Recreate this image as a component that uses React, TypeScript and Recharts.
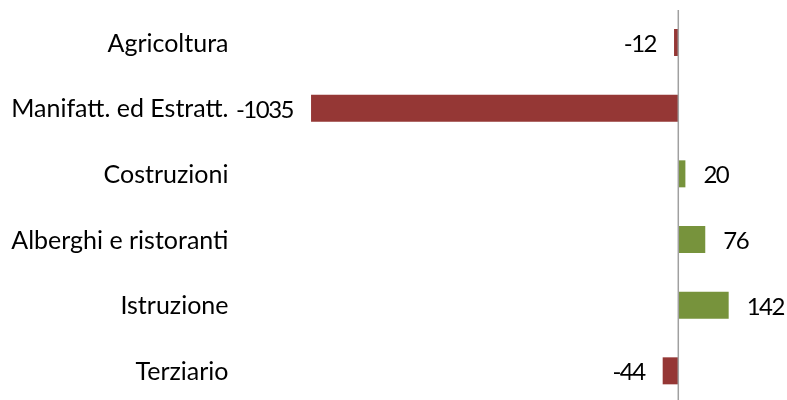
import React from 'react';
import { BarChart, Bar, XAxis, YAxis, Cell, LabelList, ReferenceLine } from 'recharts';

const categories = [
  'Agricoltura',
  'Manifatt. ed Estratt.',
  'Costruzioni',
  'Alberghi e ristoranti',
  'Istruzione',
  'Terziario',
];
const values = [-12, -1035, 20, 76, 142, -44];

const RED = '#953735';
const GREEN = '#77933C';
const FONT = 'Lato, "Open Sans", sans-serif';

const data = categories.map((name, i) => ({ name, value: values[i] }));

const ValueLabel = (props: any) => {
  const { x, y, width, height, value } = props;
  const neg = value < 0;
  const left = Math.min(x, x + width);
  const right = Math.max(x, x + width);
  return (
    <text
      x={neg ? left - 18 : right + 18}
      y={y + height / 2}
      textAnchor={neg ? 'end' : 'start'}
      dominantBaseline="central"
      fontSize={24}
      letterSpacing={-1.5}
      fontFamily={FONT}
      fill="#000"
    >
      {value}
    </text>
  );
};

const App = () => {
  return (
    <div style={{ position: 'fixed', top: 8, left: 8, width: 779, height: 392, overflow: 'hidden' }}>
      <BarChart
        width={779}
        height={396}
        data={data}
        layout="vertical"
        margin={{ top: 2, right: 20, bottom: 0, left: 0 }}
        barCategoryGap={0}
      >
        <XAxis type="number" domain={[-1200, 250]} hide />
        <YAxis
          type="category"
          dataKey="name"
          width={244.5}
          axisLine={false}
          tickLine={false}
          tickSize={0}
          tickMargin={24}
          interval={0}
          tick={{ fontSize: 25, fontFamily: FONT, fill: '#000' }}
        />
        <Bar dataKey="value" barSize={27} isAnimationActive={false}>
          {data.map((d, i) => (
            <Cell key={`cell-${i}`} fill={d.value < 0 ? RED : GREEN} />
          ))}
          <LabelList dataKey="value" content={ValueLabel} />
        </Bar>
        <ReferenceLine x={0} stroke="#a0a0a0" strokeWidth={1.5} />
      </BarChart>
    </div>
  );
};

export default App;
